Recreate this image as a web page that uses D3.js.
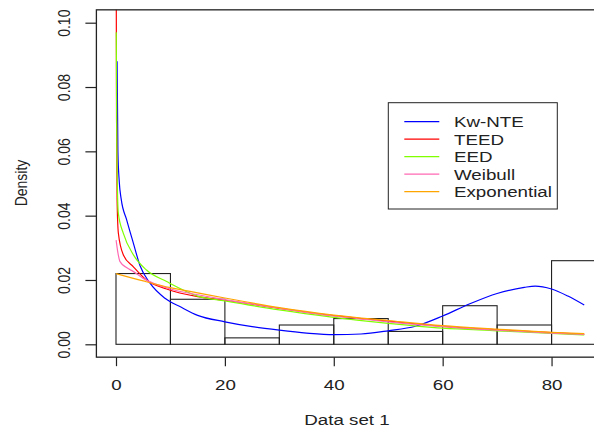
<html>
  <head>
    <meta charset="utf-8">
    <script src="https://cdn.jsdelivr.net/npm/d3@7"></script>
    <style>
      body { margin: 0; background: #fff; }
      text { font-family: "Liberation Sans", Arial, sans-serif; fill: #222; }
    </style>
  </head>
  <body>
<div id="chart"></div>
<script>

// histogram: bin edges and density per bin
let binEdges = [0, 10, 20, 30, 40, 50, 60, 70, 80, 90];
let binDensity = [0.022, 0.014, 0.002, 0.006, 0.008, 0.004, 0.012, 0.006, 0.026];

// fitted densities, [x, density]
let kwNTE = [[0.2, 0.088], [0.35, 0.06], [0.6, 0.0505], [0.95, 0.0452], [1.96, 0.0387], [3.2, 0.0314],
  [4.4, 0.0245], [6.25, 0.019], [9, 0.0143], [12, 0.0115], [15, 0.009], [20, 0.007], [25, 0.0055],
  [30, 0.0044], [35, 0.0035], [40, 0.003], [45, 0.0032], [50, 0.0042], [55, 0.0056], [60, 0.0088],
  [65, 0.0126], [70, 0.0158], [75, 0.0177], [77, 0.0181], [80, 0.0172], [83, 0.015], [86, 0.0122]];
let teed = [[0.02, 0.13], [0.1, 0.07], [0.2, 0.045], [0.43, 0.0346], [1.35, 0.0278], [3.2, 0.0241],
  [5.6, 0.02], [9.3, 0.0172], [15, 0.0148], [20, 0.0137], [30, 0.0112], [40, 0.0089], [50, 0.0072],
  [60, 0.0056], [70, 0.0045], [80, 0.0036], [86, 0.0031]];
let eed = [[0.05, 0.097], [0.15, 0.06], [0.43, 0.0407], [1.35, 0.0345], [3.2, 0.0278], [5.6, 0.0231],
  [9.3, 0.0195], [15, 0.015], [20, 0.0135], [30, 0.0107], [40, 0.0084], [50, 0.0065], [60, 0.005],
  [70, 0.0042], [80, 0.0034], [86, 0.0029]];
let weibull = [[0.02, 0.0324], [0.3, 0.029], [0.74, 0.0257], [2, 0.0238], [3.2, 0.0226], [5, 0.0205],
  [10, 0.0172], [15, 0.0154], [20, 0.0139], [30, 0.0112], [40, 0.0088], [50, 0.007], [60, 0.0055],
  [70, 0.0044], [80, 0.0035], [86, 0.0031]];
let expo = [[0, 0.022], [5, 0.0197], [10, 0.0176], [15, 0.016], [20, 0.0144], [30, 0.0114],
  [40, 0.0091], [50, 0.0074], [60, 0.0058], [70, 0.0047], [80, 0.0037], [86, 0.0033]];

let legendLabels = ['Kw-NTE', 'TEED', 'EED', 'Weibull', 'Exponential'];
let legendColors = ['#0000ff', '#ff0000', '#7fff00', '#ff69b4', '#ffa500'];
let series = [kwNTE, teed, eed, weibull, expo];

let xTicks = [0, 20, 40, 60, 80];
let yTicks = [0, 0.02, 0.04, 0.06, 0.08, 0.10];

let width = 594;
let height = 436;

let x = d3.scaleLinear().domain([0, 90]).range([116, 606]);
let y = d3.scaleLinear().domain([0, 0.10]).range([344.3, 22.7]);

// plot region, R style 4% padding
let boxL = x(-3.6), boxR = x(93.6), boxT = y(0.104), boxB = y(-0.004);

let svg = d3.select('#chart')
    .append('svg')
    .attr('width', width)
    .attr('height', height);

svg.append('clipPath')
    .attr('id', 'plot-clip')
    .append('rect')
    .attr('x', boxL).attr('y', boxT)
    .attr('width', boxR - boxL).attr('height', boxB - boxT);

// histogram bars
svg.append('g')
    .selectAll('rect')
    .data(binDensity)
    .join('rect')
    .attr('x', (d, i) => x(binEdges[i]))
    .attr('y', d => y(d))
    .attr('width', (d, i) => x(binEdges[i + 1]) - x(binEdges[i]))
    .attr('height', d => y(0) - y(d))
    .attr('fill', 'none')
    .attr('stroke', '#222')
    .attr('stroke-width', 1.1);

// density curves
let line = d3.line()
    .x(d => x(d[0]))
    .y(d => y(d[1]))
    .curve(d3.curveMonotoneX);

svg.append('g')
    .attr('clip-path', 'url(#plot-clip)')
    .selectAll('path')
    .data(series)
    .join('path')
    .attr('d', line)
    .attr('fill', 'none')
    .attr('stroke', (d, i) => legendColors[i])
    .attr('stroke-width', 1.2);

// box
svg.append('rect')
    .attr('x', boxL).attr('y', boxT)
    .attr('width', boxR - boxL).attr('height', boxB - boxT)
    .attr('fill', 'none')
    .attr('stroke', '#222')
    .attr('stroke-width', 1.3);

// x axis
let gx = svg.append('g')
    .attr('transform', 'translate(0,' + boxB + ')')
    .call(d3.axisBottom(x).tickValues(xTicks).tickSize(9).tickSizeOuter(0).tickFormat(d3.format('d')));
gx.select('.domain').remove();
gx.selectAll('.tick line').attr('stroke', '#222').attr('stroke-width', 1.2);
gx.selectAll('.tick text')
    .attr('y', null).attr('dy', null)
    .attr('transform', 'translate(0,33) scale(1.25,1)')
    .style('font-size', '15px')
    .attr('fill', '#222');

// y axis
let gy = svg.append('g')
    .attr('transform', 'translate(' + boxL + ',0)')
    .call(d3.axisLeft(y).tickValues(yTicks).tickSize(11).tickSizeOuter(0).tickFormat(d3.format('.2f')));
gy.select('.domain').remove();
gy.selectAll('.tick line').attr('stroke', '#222').attr('stroke-width', 1.2);
gy.selectAll('.tick text')
    .attr('x', null).attr('dy', null)
    .attr('text-anchor', 'middle')
    .attr('transform', 'translate(-26.3,0) scale(1.2,1) rotate(-90)')
    .style('font-size', '14px')
    .attr('fill', '#222');

// axis titles
svg.append('text')
    .attr('transform', 'translate(347,425) scale(1.25,1)')
    .attr('text-anchor', 'middle')
    .style('font-size', '15px')
    .text('Data set 1');

svg.append('text')
    .attr('transform', 'translate(26.5,183) scale(1.2,1) rotate(-90)')
    .attr('text-anchor', 'middle')
    .style('font-size', '14px')
    .text('Density');

// legend
let legend = svg.append('g');
legend.append('rect')
    .attr('x', 388.3).attr('y', 102.7)
    .attr('width', 169).attr('height', 106.3)
    .attr('fill', '#fff')
    .attr('stroke', '#222')
    .attr('stroke-width', 1);

let rows = legend.selectAll('g.row')
    .data(legendLabels)
    .join('g')
    .attr('class', 'row')
    .attr('transform', (d, i) => 'translate(0,' + (121.7 + i * 17.5) + ')');
rows.append('line')
    .attr('x1', 404.3).attr('x2', 439.3)
    .attr('stroke', (d, i) => legendColors[i])
    .attr('stroke-width', 1.2);
rows.append('text')
    .attr('transform', 'translate(454,5.3) scale(1.25,1)')
    .style('font-size', '15px')
    .text(d => d);

</script>
  </body>
</html>
